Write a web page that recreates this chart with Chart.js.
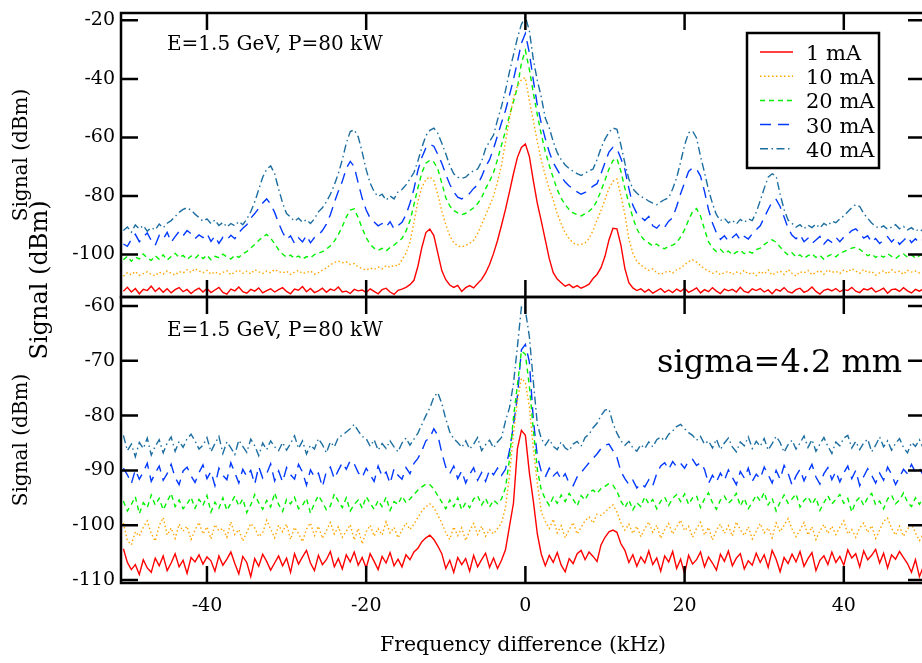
<!DOCTYPE html>
<html>
<head>
<meta charset="utf-8">
<script src="https://cdn.jsdelivr.net/npm/chart.js@4/dist/chart.umd.min.js"></script>
<style>
  html, body { margin: 0; padding: 0; background: #fff; overflow: hidden; }
  #wrap { position: relative; width: 940px; height: 663px; }
  canvas { display: block; }
</style>
</head>
<body>
<div id="wrap"><canvas id="spectra" width="940" height="663"></canvas></div>
<script>
// Beam current of each trace
const currents = ['1 mA', '10 mA', '20 mA', '30 mA', '40 mA'];

// Sample grid of the spectra (kHz)
const freqStart = -50.5;
const freqStep = 0.5;

// Tick labels
const freqTicks = [-40, -20, 0, 20, 40];
const upperTicks = [-100, -80, -60, -40, -20];
const lowerTicks = [-110, -100, -90, -80, -70, -60];

// Upper panel: signal (dBm), one value per sample
const upper1mA = [
  -112.5,-111.2,-112.8,-111.6,-113.4,-111.9,-112.3,-110.8,-112.6,-111.4,-112.9,-111.7,-113.1,-112.0,-111.3,-112.7,-111.9,-113.3,-112.2,-111.5,
  -112.8,-111.6,-113.0,-112.1,-111.2,-112.9,-113.5,-111.8,-112.4,-111.1,-112.7,-113.2,-111.9,-112.5,-111.4,-113.1,-112.3,-111.7,-112.8,-112.0,
  -111.3,-112.6,-113.4,-111.8,-112.2,-110.9,-112.7,-111.6,-113.0,-112.4,-111.5,-112.9,-111.8,-112.3,-111.1,-112.8,-112.5,-113.3,-111.9,-112.4,
  -112.1,-113.0,-111.7,-112.6,-113.4,-112.0,-111.5,-112.8,-113.6,-112.2,-111.8,-111.2,-110.3,-108.8,-104.0,-97.5,-92.5,-91.3,-93.5,-99.5,
  -105.5,-108.6,-110.4,-111.2,-110.5,-112.6,-111.3,-110.6,-111.4,-109.9,-108.5,-106.3,-103.4,-99.6,-95.2,-90.0,-84.6,-78.6,-72.4,-66.8,
  -63.4,-62.2,-66.5,-74.8,-82.5,-88.6,-95.0,-101.4,-106.2,-108.4,-109.6,-110.8,-110.2,-111.3,-110.6,-111.5,-110.9,-110.1,-108.2,-106.8,
  -104.5,-100.6,-95.0,-91.0,-91.2,-96.8,-104.8,-109.6,-111.4,-112.3,-111.7,-112.8,-111.9,-113.2,-112.4,-111.6,-112.9,-112.1,-113.0,-111.8,
  -112.6,-111.5,-112.9,-112.2,-111.4,-113.1,-112.0,-112.7,-111.3,-112.5,-113.3,-111.8,-112.4,-111.9,-112.8,-111.2,-112.6,-113.0,-111.7,-112.3,
  -111.6,-112.8,-112.1,-113.4,-111.9,-112.5,-111.3,-112.7,-113.1,-112.0,-111.5,-112.9,-112.3,-111.1,-112.6,-113.5,-112.2,-111.8,-112.4,-111.6,
  -112.7,-111.9,-112.3,-111.2,-112.5,-113.0,-111.7,-112.1,-111.4,-112.8,-112.2,-111.5,-113.2,-112.0,-111.8,-112.6,-111.3,-112.4,-113.1,-111.9,
  -112.5,-111.7
];
const upper10mA = [
  -107.4,-106.2,-106.9,-105.8,-107.1,-106.5,-105.9,-106.8,-107.3,-106.0,-106.7,-105.6,-106.4,-107.0,-105.8,-106.3,-105.2,-106.1,-104.8,-105.6,
  -106.2,-105.4,-106.7,-105.9,-106.8,-106.1,-105.5,-106.9,-106.0,-105.3,-106.4,-105.7,-106.6,-105.2,-105.9,-106.5,-105.6,-106.2,-105.1,-105.8,
  -106.3,-105.7,-106.8,-106.0,-105.4,-106.5,-106.1,-105.6,-106.7,-106.2,-105.3,-104.6,-103.5,-102.7,-102.2,-102.8,-102.5,-103.4,-103.1,-104.2,
  -104.8,-105.3,-104.6,-105.1,-104.3,-104.9,-103.8,-104.4,-103.6,-103.9,-101.8,-99.6,-95.8,-89.0,-81.8,-77.0,-74.4,-73.5,-74.8,-79.5,
  -85.2,-89.8,-93.6,-95.9,-97.0,-97.4,-96.9,-96.2,-95.1,-92.8,-89.8,-86.6,-83.4,-80.0,-75.2,-69.5,-61.5,-53.8,-46.5,-42.4,
  -40.3,-39.6,-47.5,-54.2,-61.5,-67.8,-73.0,-77.6,-81.3,-86.0,-89.5,-92.6,-94.6,-96.0,-96.7,-96.5,-96.0,-94.5,-91.8,-88.2,
  -85.0,-81.2,-77.4,-75.0,-74.2,-79.8,-86.4,-94.6,-99.6,-102.3,-103.6,-104.6,-105.4,-104.9,-106.2,-106.8,-106.1,-105.6,-106.3,-105.2,
  -104.6,-103.5,-102.4,-101.8,-102.6,-103.8,-104.9,-105.6,-106.4,-105.8,-106.9,-106.2,-105.7,-106.8,-106.0,-106.5,-105.4,-106.7,-106.1,-107.2,
  -105.8,-106.6,-105.3,-107.0,-106.2,-105.6,-106.8,-105.1,-106.4,-107.3,-105.9,-106.3,-105.4,-106.9,-106.0,-105.5,-106.7,-105.2,-106.1,-105.7,
  -106.5,-105.3,-106.0,-104.8,-105.6,-106.4,-105.1,-106.2,-105.8,-107.0,-106.3,-105.5,-106.6,-105.2,-106.1,-105.7,-106.8,-105.4,-106.0,-105.6,
  -106.3,-105.9
];
const upper20mA = [
  -101.8,-100.6,-102.3,-100.9,-101.5,-99.8,-101.2,-102.0,-100.4,-101.6,-100.1,-101.9,-100.7,-99.6,-101.0,-100.3,-101.7,-100.5,-101.3,-100.0,
  -101.4,-100.2,-101.8,-100.6,-101.1,-99.9,-100.8,-101.5,-100.3,-101.0,-99.7,-99.0,-97.8,-96.6,-95.2,-94.0,-93.1,-94.4,-96.3,-98.4,
  -99.8,-100.9,-100.2,-101.3,-100.5,-101.6,-100.7,-101.2,-100.0,-99.6,-99.0,-98.2,-97.0,-95.4,-93.2,-90.4,-87.2,-84.8,-84.4,-87.5,
  -91.0,-94.2,-96.5,-97.8,-98.6,-97.9,-98.8,-97.6,-96.8,-95.6,-94.5,-92.0,-88.5,-83.0,-77.2,-72.0,-68.8,-67.8,-68.4,-70.8,
  -75.6,-80.6,-83.4,-85.0,-85.8,-86.4,-85.9,-85.0,-84.0,-82.6,-80.6,-77.5,-75.0,-72.0,-67.5,-62.6,-57.8,-52.5,-47.8,-43.0,
  -34.6,-30.3,-36.8,-44.8,-52.3,-59.0,-64.8,-69.6,-73.8,-77.8,-80.8,-83.0,-84.6,-85.8,-86.4,-86.8,-86.1,-85.2,-84.0,-81.6,
  -78.2,-74.6,-70.8,-67.9,-67.2,-71.6,-77.4,-82.5,-87.4,-91.2,-93.6,-95.2,-96.0,-97.1,-96.4,-97.6,-98.0,-97.2,-96.8,-96.0,
  -94.0,-91.5,-88.2,-85.4,-84.3,-86.8,-91.4,-95.6,-97.8,-99.0,-98.2,-99.6,-98.8,-100.1,-99.2,-98.5,-99.7,-98.9,-99.5,-98.3,
  -97.8,-96.6,-95.6,-95.0,-95.8,-97.4,-98.9,-100.2,-99.4,-100.8,-100.1,-101.3,-100.4,-99.7,-101.0,-100.3,-101.6,-100.5,-99.9,-100.8,
  -99.6,-99.0,-98.4,-97.8,-97.5,-98.2,-99.3,-100.4,-99.8,-101.0,-100.2,-100.9,-99.7,-100.6,-101.4,-100.3,-99.8,-100.9,-100.1,-101.2,
  -100.4,-99.9
];
const upper30mA = [
  -96.4,-97.2,-94.8,-93.1,-95.6,-94.0,-92.6,-95.2,-96.8,-93.5,-94.7,-92.4,-95.8,-93.9,-92.1,-93.6,-91.8,-92.9,-94.6,-93.3,
  -94.2,-92.8,-95.5,-93.7,-96.2,-94.1,-95.0,-93.4,-94.6,-92.5,-91.0,-89.8,-87.6,-86.0,-84.2,-82.4,-81.0,-82.8,-85.6,-89.2,
  -92.4,-94.8,-93.6,-96.2,-94.3,-95.7,-93.5,-96.0,-94.2,-93.4,-91.8,-89.6,-86.4,-82.2,-78.4,-75.0,-70.6,-68.2,-70.0,-75.6,
  -80.8,-84.8,-87.6,-88.9,-90.2,-89.4,-90.6,-88.8,-91.2,-90.1,-89.0,-86.4,-82.5,-77.6,-71.2,-66.8,-63.6,-62.4,-63.0,-65.8,
  -68.8,-72.6,-76.0,-78.6,-80.4,-81.0,-80.2,-79.1,-77.4,-76.2,-73.4,-70.0,-67.6,-63.8,-59.4,-55.0,-50.8,-45.6,-40.2,-34.2,
  -27.8,-24.5,-31.2,-40.5,-49.0,-55.2,-60.4,-65.0,-68.6,-71.0,-73.4,-75.2,-76.6,-77.4,-78.6,-79.4,-78.8,-77.9,-76.6,-75.8,
  -72.4,-68.6,-65.0,-63.4,-63.8,-67.2,-71.0,-77.4,-83.2,-86.0,-87.2,-88.4,-87.0,-90.2,-91.0,-89.4,-90.6,-88.6,-87.4,-83.6,
  -79.2,-75.4,-71.6,-70.4,-70.8,-73.2,-78.4,-84.6,-89.2,-92.6,-94.8,-93.6,-95.4,-94.2,-93.0,-95.1,-93.8,-94.7,-92.9,-91.5,
  -90.2,-87.4,-84.6,-82.0,-81.2,-83.6,-87.2,-91.0,-93.4,-94.6,-93.2,-95.6,-94.4,-96.2,-95.0,-93.8,-96.4,-94.9,-95.8,-94.1,
  -95.6,-94.0,-93.2,-91.8,-91.2,-92.6,-94.4,-93.6,-95.8,-94.5,-96.2,-95.0,-93.9,-95.7,-94.3,-96.5,-95.2,-93.8,-95.9,-94.6,
  -96.0,-94.8
];
const upper40mA = [
  -91.8,-90.6,-92.4,-89.9,-91.2,-90.1,-92.0,-90.8,-91.6,-89.6,-90.9,-89.3,-88.4,-87.0,-85.6,-84.6,-84.0,-84.8,-86.2,-87.4,
  -88.6,-87.8,-89.4,-88.2,-90.1,-89.0,-90.6,-89.4,-90.2,-88.7,-89.8,-87.9,-85.4,-82.0,-77.8,-73.6,-70.8,-69.7,-72.4,-77.6,
  -82.4,-86.0,-87.2,-88.6,-87.6,-89.0,-88.1,-89.4,-87.8,-85.4,-84.0,-82.0,-79.4,-76.2,-72.4,-67.6,-62.0,-58.0,-57.4,-59.8,
  -65.0,-71.0,-75.6,-78.6,-80.2,-79.4,-81.4,-80.0,-81.0,-78.6,-77.8,-76.2,-74.2,-72.0,-68.0,-63.4,-59.4,-57.6,-56.8,-58.6,
  -62.0,-65.6,-69.6,-72.4,-73.6,-74.0,-73.6,-72.2,-71.4,-70.8,-68.2,-63.8,-61.4,-59.2,-54.0,-49.4,-44.0,-37.6,-31.8,-26.0,
  -21.4,-18.8,-23.6,-33.4,-40.6,-46.2,-53.4,-56.8,-61.4,-65.2,-67.6,-69.4,-70.6,-71.6,-72.4,-73.0,-72.2,-71.4,-70.8,-67.6,
  -63.6,-60.6,-58.2,-56.8,-57.2,-62.6,-68.8,-74.2,-77.6,-79.0,-80.2,-80.8,-81.8,-82.4,-83.0,-82.0,-81.2,-80.6,-77.6,-73.8,
  -68.4,-62.6,-58.4,-57.8,-60.2,-66.4,-72.0,-77.8,-82.6,-86.4,-88.4,-87.6,-89.2,-88.3,-89.6,-88.0,-89.0,-87.8,-88.4,-85.6,
  -81.6,-77.4,-73.6,-72.4,-73.2,-79.4,-84.6,-88.2,-89.4,-90.6,-89.8,-91.2,-90.0,-90.8,-89.6,-90.9,-89.4,-90.2,-88.6,-89.1,
  -87.8,-86.8,-85.4,-84.0,-82.9,-83.6,-86.0,-87.6,-89.2,-90.4,-91.0,-90.2,-91.4,-90.6,-89.8,-91.2,-90.4,-91.6,-90.8,-92.0,
  -91.2,-92.2
];

// Lower panel (sigma = 4.2 mm): signal (dBm), one value per sample
const lower1mA = [
  -104.3,-106.8,-108.1,-107.2,-109.0,-106.3,-107.8,-108.6,-106.0,-107.4,-105.6,-108.3,-106.9,-105.2,-107.6,-106.4,-108.8,-105.9,-106.7,-105.4,
  -107.1,-105.8,-106.5,-108.4,-105.6,-107.3,-106.2,-104.9,-107.0,-108.9,-105.7,-106.8,-109.4,-106.1,-107.5,-105.3,-106.6,-108.2,-106.9,-105.6,
  -107.4,-106.0,-108.6,-105.2,-107.1,-105.8,-104.6,-106.9,-108.3,-105.5,-107.2,-106.3,-104.8,-107.6,-106.1,-108.0,-105.4,-106.7,-104.9,-107.3,
  -105.9,-107.8,-105.2,-106.6,-108.1,-105.7,-106.9,-105.0,-107.4,-106.2,-107.6,-105.4,-106.3,-104.9,-104.2,-103.0,-102.3,-101.8,-102.6,-103.8,
  -105.2,-107.9,-106.4,-108.6,-105.9,-107.2,-106.1,-108.4,-105.5,-107.6,-106.3,-105.1,-107.7,-106.0,-107.9,-106.4,-104.5,-100.2,-96.0,-86.0,
  -82.7,-83.6,-90.4,-95.6,-101.6,-105.3,-107.4,-105.5,-106.8,-105.0,-107.3,-108.5,-106.1,-107.0,-105.2,-104.6,-106.3,-104.9,-105.7,-106.6,
  -103.6,-102.2,-101.2,-100.9,-101.3,-103.4,-104.6,-106.8,-105.4,-107.5,-105.8,-106.9,-104.7,-107.2,-106.0,-108.4,-105.6,-106.7,-104.8,-107.9,
  -106.2,-108.9,-105.5,-107.1,-106.3,-104.9,-107.6,-105.8,-106.9,-108.2,-105.3,-106.6,-104.7,-107.4,-106.0,-105.2,-108.0,-106.5,-107.3,-105.1,
  -106.8,-105.4,-107.7,-104.6,-106.2,-108.5,-105.9,-107.0,-105.3,-106.7,-104.8,-107.5,-106.1,-105.0,-108.3,-106.4,-105.6,-107.2,-104.9,-106.8,
  -105.7,-107.3,-104.5,-106.0,-105.2,-107.6,-104.7,-106.3,-105.5,-104.4,-106.9,-105.1,-107.8,-105.4,-106.2,-104.8,-105.9,-107.0,-108.6,-106.3,
  -109.4,-107.5
];
const lower10mA = [
  -99.6,-102.8,-103.6,-101.2,-102.0,-100.4,-99.2,-101.5,-102.9,-100.1,-98.6,-101.8,-100.5,-102.4,-99.8,-101.1,-100.2,-102.6,-100.9,-99.5,
  -101.6,-100.3,-102.5,-99.9,-101.0,-100.6,-102.2,-99.4,-101.7,-100.8,-102.9,-101.3,-99.7,-100.5,-102.1,-101.4,-99.1,-100.7,-102.3,-100.0,
  -101.2,-99.8,-102.6,-100.4,-101.5,-103.0,-100.7,-99.6,-101.9,-100.2,-102.4,-101.0,-99.5,-101.6,-100.3,-102.2,-101.1,-99.9,-102.7,-100.6,
  -103.4,-101.2,-100.0,-102.0,-100.6,-101.8,-99.4,-101.4,-100.4,-102.3,-100.9,-99.6,-100.8,-99.8,-98.6,-97.4,-96.6,-96.1,-96.8,-98.2,
  -99.6,-101.4,-102.6,-100.3,-101.9,-100.5,-102.8,-101.0,-99.7,-101.7,-100.2,-102.0,-100.8,-101.6,-100.6,-99.6,-96.8,-91.0,-83.4,-77.2,
  -73.2,-73.9,-78.4,-86.0,-92.4,-97.6,-99.3,-100.6,-98.9,-101.4,-100.1,-102.3,-100.8,-99.5,-101.6,-100.4,-99.2,-98.5,-99.6,-98.0,
  -98.2,-97.6,-96.9,-96.3,-97.6,-99.6,-100.9,-99.8,-101.5,-100.2,-102.1,-100.6,-99.4,-101.3,-100.0,-102.4,-100.8,-99.7,-101.6,-100.3,
  -99.1,-101.0,-100.2,-102.2,-100.6,-99.5,-101.8,-100.4,-102.7,-100.9,-99.8,-101.5,-100.1,-102.0,-99.4,-100.8,-101.9,-100.3,-102.5,-101.1,
  -99.7,-101.4,-100.5,-102.3,-99.6,-101.2,-100.0,-98.8,-100.7,-102.1,-100.9,-99.5,-101.8,-100.3,-102.6,-101.0,-99.9,-101.5,-100.2,-101.7,
  -100.4,-99.2,-101.6,-100.8,-102.2,-100.5,-99.6,-101.3,-100.1,-102.4,-100.9,-99.3,-98.7,-100.6,-101.8,-100.2,-102.0,-100.7,-99.8,-101.4,
  -102.8,-101.6
];
const lower20mA = [
  -95.6,-97.4,-96.2,-94.8,-97.9,-95.9,-96.8,-94.5,-96.3,-95.1,-97.2,-95.7,-94.2,-96.6,-95.4,-97.0,-96.1,-94.9,-96.9,-95.3,
  -96.4,-94.6,-97.6,-95.8,-96.9,-95.0,-97.3,-96.0,-94.7,-96.5,-95.2,-97.7,-96.3,-94.4,-95.9,-97.1,-95.5,-96.7,-94.1,-96.2,
  -97.5,-95.3,-96.1,-94.9,-97.0,-96.4,-95.1,-97.8,-96.0,-94.6,-95.8,-97.2,-96.5,-94.3,-95.6,-96.8,-95.0,-97.4,-96.2,-95.4,
  -96.9,-94.8,-96.0,-97.1,-95.5,-96.6,-94.9,-97.3,-95.7,-96.2,-94.7,-95.9,-95.2,-94.4,-93.6,-93.0,-92.5,-92.6,-93.4,-94.6,
  -95.8,-97.0,-95.4,-96.6,-95.0,-97.2,-95.9,-96.8,-95.2,-94.6,-96.3,-95.1,-96.7,-95.4,-96.1,-95.2,-93.2,-88.0,-80.4,-74.4,
  -68.2,-68.8,-74.6,-82.6,-89.8,-93.6,-95.2,-96.4,-94.9,-96.0,-94.5,-95.7,-94.2,-95.3,-96.5,-94.6,-95.4,-94.0,-93.6,-94.2,
  -93.3,-92.9,-92.4,-92.7,-93.8,-95.6,-96.8,-95.4,-97.2,-95.9,-96.6,-94.8,-96.1,-95.3,-97.0,-95.6,-94.9,-96.4,-95.1,-94.4,
  -95.7,-94.3,-96.2,-95.0,-94.6,-96.8,-95.2,-94.1,-95.9,-97.1,-95.4,-94.7,-96.0,-95.3,-94.2,-96.5,-95.1,-97.0,-95.8,-94.5,
  -95.6,-94.0,-96.3,-95.1,-97.4,-95.8,-94.5,-96.0,-95.2,-94.3,-96.7,-95.5,-94.8,-96.2,-95.0,-97.3,-95.9,-94.6,-96.1,-95.3,
  -94.4,-96.0,-95.1,-97.6,-95.7,-94.9,-96.4,-95.0,-94.2,-96.3,-95.6,-97.0,-95.2,-94.5,-96.1,-95.4,-94.1,-95.8,-96.6,-95.0,
  -96.2,-94.8
];
const lower30mA = [
  -89.6,-90.8,-92.4,-89.9,-91.6,-90.3,-88.7,-92.0,-90.5,-89.2,-91.8,-90.6,-88.9,-91.3,-92.6,-90.1,-89.4,-91.0,-92.2,-90.4,
  -89.0,-91.5,-90.2,-92.8,-89.6,-90.9,-91.7,-88.6,-90.4,-92.3,-89.8,-91.1,-90.0,-92.5,-89.3,-91.4,-90.6,-88.8,-91.9,-90.1,
  -92.1,-89.5,-90.8,-91.6,-88.9,-90.3,-92.7,-89.9,-91.2,-90.5,-93.0,-90.2,-89.4,-91.5,-90.0,-88.6,-89.8,-88.2,-88.8,-90.4,
  -91.3,-89.6,-90.8,-92.0,-89.2,-91.1,-90.3,-92.4,-89.7,-90.9,-91.6,-89.5,-90.6,-88.7,-87.8,-86.4,-84.6,-84.0,-82.4,-83.6,
  -86.8,-89.4,-90.6,-89.2,-91.5,-90.1,-92.3,-90.7,-89.5,-91.8,-90.4,-92.0,-89.9,-90.8,-89.6,-90.9,-89.8,-86.4,-81.8,-76.5,
  -68.0,-67.0,-70.2,-80.8,-87.4,-90.2,-91.2,-89.6,-91.0,-90.3,-91.7,-90.6,-92.4,-92.8,-91.2,-90.4,-89.5,-88.6,-87.8,-87.0,
  -86.0,-85.4,-85.2,-86.4,-87.6,-90.2,-91.5,-92.6,-91.8,-93.2,-92.4,-93.0,-91.7,-92.8,-90.6,-89.2,-88.6,-89.8,-88.4,-89.3,
  -88.7,-89.6,-88.3,-88.0,-89.1,-88.6,-89.8,-92.4,-90.9,-92.1,-90.5,-91.8,-89.9,-91.3,-92.6,-90.2,-91.4,-89.6,-92.0,-90.7,
  -91.5,-89.4,-90.8,-92.3,-90.0,-91.6,-89.1,-90.5,-92.7,-91.0,-89.8,-91.9,-90.3,-88.9,-91.2,-92.5,-90.6,-89.5,-91.7,-90.2,
  -92.1,-90.4,-89.2,-91.5,-90.0,-92.8,-91.1,-89.7,-90.9,-92.3,-90.5,-91.8,-89.4,-90.7,-92.6,-91.2,-89.8,-90.6,-88.9,-90.3,
  -89.6,-90.9
];
const lower40mA = [
  -83.6,-86.4,-85.2,-87.5,-84.9,-86.0,-84.1,-87.2,-85.6,-84.4,-86.8,-85.0,-83.9,-86.5,-84.7,-85.8,-84.2,-83.4,-84.6,-86.1,
  -85.4,-84.0,-86.6,-85.1,-83.8,-86.9,-84.8,-85.9,-87.1,-84.5,-85.6,-86.7,-84.3,-85.5,-87.3,-85.0,-86.2,-84.6,-85.7,-86.4,
  -84.9,-86.3,-85.1,-83.7,-86.0,-84.6,-87.0,-85.4,-86.1,-84.2,-85.3,-86.8,-84.8,-85.7,-84.0,-83.6,-83.0,-82.4,-81.6,-82.8,
  -83.8,-84.2,-85.6,-84.4,-86.3,-85.1,-86.0,-84.6,-85.7,-86.6,-85.0,-84.1,-85.4,-84.3,-83.2,-81.6,-80.0,-78.6,-76.6,-75.8,
  -77.8,-80.6,-83.0,-84.2,-84.9,-85.8,-84.6,-86.1,-85.2,-84.0,-86.4,-85.3,-84.5,-85.9,-84.8,-84.0,-81.0,-78.6,-74.2,-67.4,
  -60.2,-60.8,-65.6,-73.8,-81.6,-84.2,-85.4,-84.3,-85.6,-86.2,-84.8,-85.9,-86.4,-85.2,-84.7,-85.6,-84.0,-83.4,-82.2,-81.4,
  -80.0,-79.0,-78.8,-81.4,-83.2,-84.6,-85.4,-84.7,-85.9,-86.5,-85.3,-86.0,-84.8,-85.7,-84.4,-83.9,-84.6,-83.4,-82.8,-82.0,
  -81.6,-82.4,-83.1,-83.6,-84.5,-83.8,-85.2,-84.6,-85.9,-84.3,-86.2,-85.0,-84.1,-85.7,-86.6,-84.8,-85.5,-83.9,-86.0,-84.7,
  -85.6,-84.2,-86.3,-85.1,-83.8,-84.9,-86.7,-85.3,-84.5,-86.1,-85.0,-83.7,-85.8,-84.4,-86.5,-85.2,-84.0,-85.6,-86.9,-84.8,
  -85.5,-84.1,-83.6,-85.9,-84.7,-86.2,-85.0,-84.3,-86.6,-85.4,-83.9,-85.7,-84.6,-86.3,-85.1,-84.2,-85.8,-86.8,-84.9,-85.6,
  -84.4,-86.0
];

const upperSeries = [upper1mA, upper10mA, upper20mA, upper30mA, upper40mA];
const lowerSeries = [lower1mA, lower10mA, lower20mA, lower30mA, lower40mA];

// Line style for each current
const traceStyles = [
  { color: '#ff0000', dash: [] },
  { color: '#ffa500', dash: [1.5, 2.5] },
  { color: '#00f000', dash: [5, 4] },
  { color: '#0038ff', dash: [11, 7] },
  { color: '#1c6ea0', dash: [8, 3.5, 1.5, 3.5] }
];

const SERIF = "'DejaVu Serif', 'Liberation Serif', serif";
const TICK_LEN = 17;

const toPoints = vals => vals.map((v, i) => ({ x: freqStart + i * freqStep, y: v }));

function makeDatasets(series, axisId) {
  return series.map((vals, k) => ({
    label: currents[k],
    data: toPoints(vals),
    yAxisID: axisId,
    borderColor: traceStyles[k].color,
    borderDash: traceStyles[k].dash,
    borderWidth: 1.4,
    pointRadius: 0,
    fill: false,
    tension: 0
  }));
}

// Boxed frames with inward ticks, legend and annotations
const framePlugin = {
  id: 'framePlugin',
  afterDraw(chart) {
    const { ctx, chartArea: area, scales } = chart;
    const xs = scales.x;
    ctx.save();
    ctx.strokeStyle = '#000';
    ctx.lineWidth = 2.5;
    ctx.lineCap = 'butt';
    [scales.yUpper, scales.yLower].forEach(ys => {
      ctx.beginPath();
      xs.ticks.forEach(t => {
        const px = xs.getPixelForValue(t.value);
        ctx.moveTo(px, ys.top); ctx.lineTo(px, ys.top + TICK_LEN);
        ctx.moveTo(px, ys.bottom); ctx.lineTo(px, ys.bottom - TICK_LEN);
      });
      ys.ticks.forEach(t => {
        const py = ys.getPixelForValue(t.value);
        ctx.moveTo(area.left, py); ctx.lineTo(area.left + TICK_LEN, py);
        ctx.moveTo(area.right, py); ctx.lineTo(area.right - TICK_LEN, py);
      });
      ctx.stroke();
      ctx.strokeRect(area.left, ys.top, area.right - area.left, ys.bottom - ys.top);
    });

    // Legend
    const lg = { left: 747, top: 33, right: 879, bottom: 168 };
    ctx.fillStyle = '#fff';
    ctx.fillRect(lg.left, lg.top, lg.right - lg.left, lg.bottom - lg.top);
    ctx.strokeRect(lg.left, lg.top, lg.right - lg.left, lg.bottom - lg.top);
    ctx.font = '21px ' + SERIF;
    ctx.textAlign = 'left';
    ctx.textBaseline = 'alphabetic';
    chart.data.datasets.slice(0, currents.length).forEach((ds, i) => {
      const cy = 52 + i * 24.2;
      ctx.save();
      ctx.strokeStyle = ds.borderColor;
      ctx.lineWidth = 1.5;
      ctx.setLineDash(ds.borderDash);
      ctx.beginPath();
      ctx.moveTo(760, cy); ctx.lineTo(793, cy);
      ctx.stroke();
      ctx.restore();
      ctx.fillStyle = '#000';
      ctx.fillText(ds.label, 806, cy + 8);
    });

    // Annotations
    ctx.fillStyle = '#000';
    ctx.font = '20px ' + SERIF;
    ctx.fillText('E=1.5 GeV, P=80 kW', 167, 50);
    ctx.fillText('E=1.5 GeV, P=80 kW', 167, 336);
    ctx.font = '32px ' + SERIF;
    ctx.fillText('sigma=4.2 mm', 657, 372);

    // Shared axis label between the two panels
    ctx.save();
    ctx.translate(41, 280);
    ctx.rotate(-Math.PI / 2);
    ctx.font = '24px ' + SERIF;
    ctx.textAlign = 'center';
    ctx.textBaseline = 'middle';
    ctx.fillText('Signal (dBm)', 0, 0);
    ctx.restore();
    ctx.restore();
  }
};

const tickFont = { family: SERIF, size: 19 };

new Chart(document.getElementById('spectra'), {
  type: 'line',
  data: {
    datasets: [
      ...makeDatasets(upperSeries, 'yUpper'),
      ...makeDatasets(lowerSeries, 'yLower')
    ]
  },
  options: {
    responsive: false,
    animation: false,
    devicePixelRatio: 1,
    events: [],
    layout: { padding: { top: 13, right: 15, left: 0, bottom: 0 } },
    plugins: { legend: { display: false }, tooltip: { enabled: false } },
    scales: {
      x: {
        type: 'linear',
        position: 'bottom',
        min: -50.8,
        max: 50.2,
        afterBuildTicks: s => { s.ticks = freqTicks.map(v => ({ value: v })); },
        afterFit: s => { s.height = 80; s.paddingLeft = 0; s.paddingRight = 0; },
        grid: { display: false, drawTicks: false },
        border: { display: false },
        ticks: { color: '#000', font: tickFont, padding: 12, maxRotation: 0, autoSkip: false, callback: v => String(v) },
        title: {
          display: true,
          text: 'Frequency difference (kHz)',
          color: '#000',
          font: { family: SERIF, size: 20.5 },
          padding: { top: 0, bottom: 5 }
        }
      },
      yUpper: {
        type: 'linear',
        position: 'left',
        stack: 'panels',
        stackWeight: 284,
        weight: 1,
        min: -114.5,
        max: -17.5,
        afterBuildTicks: s => { s.ticks = upperTicks.map(v => ({ value: v })); },
        afterFit: s => { s.width = 121; s.paddingTop = 0; s.paddingBottom = 0; },
        grid: { display: false, drawTicks: false },
        border: { display: false },
        ticks: { color: '#000', font: tickFont, padding: 6, autoSkip: false, callback: v => String(v) },
        title: {
          display: true,
          text: 'Signal (dBm)',
          color: '#000',
          font: { family: SERIF, size: 20 },
          padding: { top: 10, bottom: 0 }
        }
      },
      yLower: {
        type: 'linear',
        position: 'left',
        stack: 'panels',
        stackWeight: 286,
        weight: 0,
        min: -110.55,
        max: -58.35,
        afterBuildTicks: s => { s.ticks = lowerTicks.map(v => ({ value: v })); },
        afterFit: s => { s.width = 121; s.paddingTop = 0; s.paddingBottom = 0; },
        grid: { display: false, drawTicks: false },
        border: { display: false },
        ticks: { color: '#000', font: tickFont, padding: 6, autoSkip: false, callback: v => String(v) },
        title: {
          display: true,
          text: 'Signal (dBm)',
          color: '#000',
          font: { family: SERIF, size: 20 },
          padding: { top: 10, bottom: 0 }
        }
      }
    }
  },
  plugins: [framePlugin]
});
</script>
</body>
</html>
